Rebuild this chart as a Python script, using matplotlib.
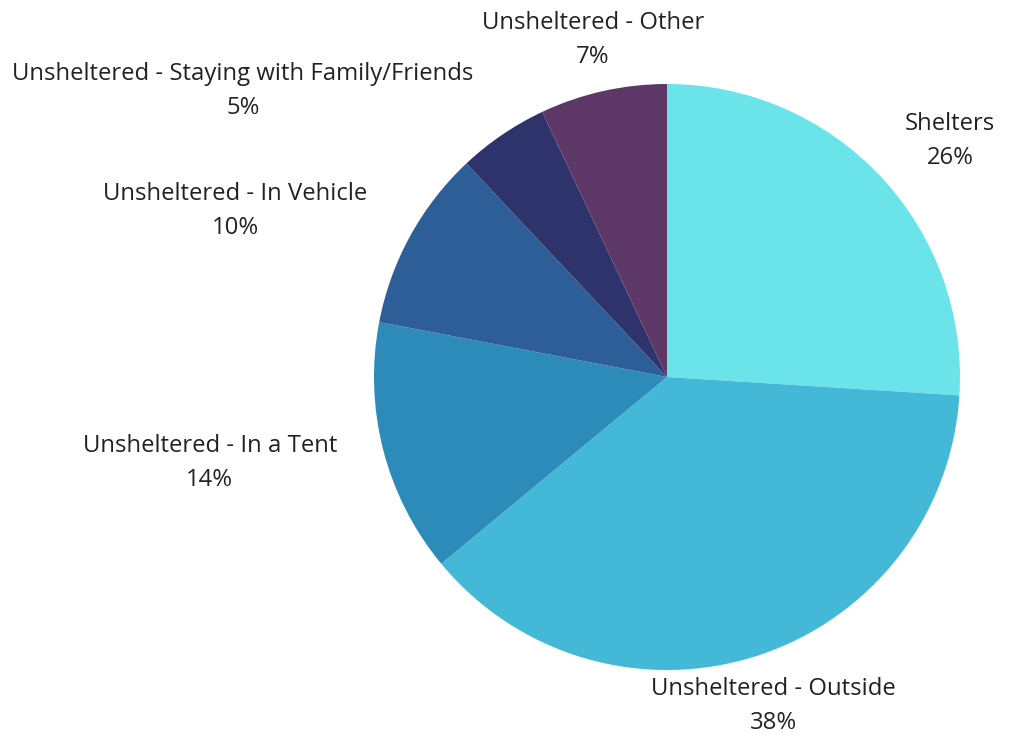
import matplotlib.pyplot as plt

categories = ['Shelters', 'Unsheltered - Outside', 'Unsheltered - In a Tent',
              'Unsheltered - In Vehicle', 'Unsheltered - Staying with Family/Friends',
              'Unsheltered - Other']
values = [26, 38, 14, 10, 5, 7]
colors = ['#6AE4E8', '#43B8D7', '#2D8BBA', '#2E5E98', '#2F336C', '#5D3866']

# label centres in axes data units (pie radius = 1)
label_pos = [(0.966, 0.805), (0.362, -1.123), (-1.56, -0.294),
             (-1.474, 0.567), (-1.447, 0.976), (-0.253, 1.15)]

plt.rcParams['font.family'] = ['Open Sans', 'DejaVu Sans']

fig = plt.figure(figsize=(10.11, 7.35), dpi=100)
ax = fig.add_axes([374 / 1011, 65 / 735, 586 / 1011, 586 / 735])
ax.pie(values, colors=colors, startangle=90, counterclock=False, radius=1)
ax.set_xlim(-1, 1)
ax.set_ylim(-1, 1)
ax.set_aspect('equal')
ax.axis('off')

for c, v, (x, y) in zip(categories, values, label_pos):
    ax.text(x, y, f'{c}\n{v}%', ha='center', va='center', fontsize=17.2,
            color='#222222', linespacing=1.55, clip_on=False)

fig.savefig('out.png', dpi=100, facecolor='white')
